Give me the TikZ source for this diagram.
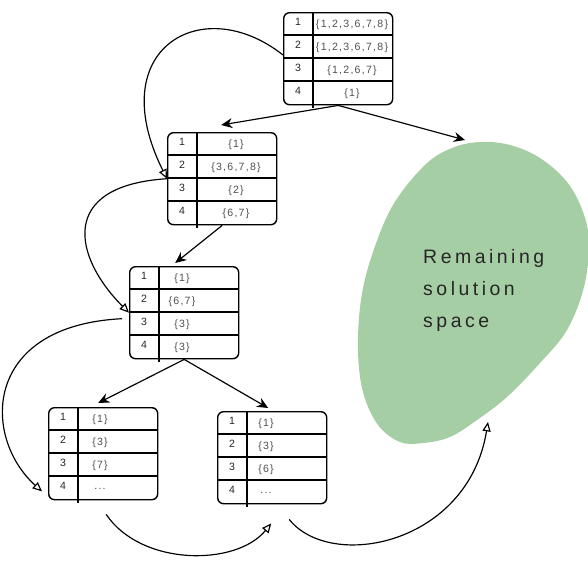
\documentclass[tikz,border=0pt]{standalone}
\usepackage{fontspec}
\setmainfont{Liberation Sans}
\newfontfamily\cellfont[LetterSpace=12]{Liberation Sans}
\newfontfamily\spacefont[LetterSpace=18]{Liberation Sans}
\usetikzlibrary{arrows.meta,calc}
\definecolor{spacegreen}{RGB}{166,206,164}
\definecolor{cellgray}{RGB}{80,80,80}

% name, left, top, value x, four row values
\newcommand{\candtable}[8]{%
  \node[tablebox] (#1) at (#2,#3) {};
  \foreach \k in {1,2,3}
    \draw[tableline] ($(#1.north west)+(0,\k*23)$) -- ++(109,0);
  \draw[tableline] ($(#1.north west)+(30,0)$) -- ++(0,96);
  \foreach \k in {1,...,4}
    \node[rownum] (#1-n\k) at ($(#1.north west)+(15,\k*23-13.5)$) {\k};
  \node[rowval] (#1-v1) at ($(#1.north west)+(#4,12.5)$) {#5};
  \node[rowval] (#1-v2) at ($(#1.north west)+(#4,35.5)$) {#6};
  \node[rowval] (#1-v3) at ($(#1.north west)+(#4,58.5)$) {#7};
  \node[rowval] (#1-v4) at ($(#1.north west)+(#4,81.5)$) {#8};
}

\begin{document}
\begin{tikzpicture}[
    x=0.03cm, y=-0.03cm,
    tablebox/.style={draw, line width=1.2pt, rounded corners=5pt, anchor=north west,
                     inner sep=0pt, minimum width=3.27cm, minimum height=2.76cm},
    tableline/.style={line width=1.2pt},
    rownum/.style={font=\cellfont\fontsize{9}{10}\selectfont, text=black!85, inner sep=0pt},
    rowval/.style={font=\cellfont\fontsize{9}{10}\selectfont, text=cellgray, inner sep=0pt},
    spacetext/.style={font=\spacefont\fontsize{16.6}{27.2}\selectfont, text=black!85,
                      align=left, anchor=north west, inner sep=0pt},
    treearr/.style={-{Stealth[length=9.5pt,width=8.5pt]}, line width=1pt},
    backarr/.style={-{Triangle[open,length=8pt,width=7pt]}, line width=1pt}
]
\path[use as bounding box, fill=white] (0,0) rectangle (588,561);

\fill[spacegreen] plot[smooth cycle, tension=0.6] coordinates {
  (480,142) (510,145) (540,158) (567,182) (583,212) (589,243) (584,287)
  (567,330) (540,363) (507,397) (477,420) (450,437) (423,443) (400,442)
  (378,425) (363,392) (358,350) (361,300) (372,255) (393,205) (425,165) (452,148)};
\node[spacetext] (space) at (423,249) {Remaining\\solution\\space};
\coordinate (space-top) at (465,140);
\coordinate (space-bottom) at (488,422);

\candtable{t1}{283}{12}{69}{\{1,2,3,6,7,8\}}{\{1,2,3,6,7,8\}}{\{1,2,6,7\}}{\{1\}}
\candtable{t2}{167}{132}{69}{\{1\}}{\{3,6,7,8\}}{\{2\}}{\{6,7\}}
\candtable{t3}{129}{266}{53}{\{1\}}{\{6,7\}}{\{3\}}{\{3\}}
\candtable{t4}{48}{407}{52}{\{1\}}{\{3\}}{\{7\}}{...}
\candtable{t5}{217}{411}{49}{\{1\}}{\{3\}}{\{6\}}{...}

\draw[treearr] (t1.south) -- ($(t2.north)+(-1,-7)$);
\draw[treearr] (t1.south) -- (space-top);
\draw[treearr] (t2.south) -- ($(t3.north)+(-9,-3)$);
\draw[treearr] (t3.south) -- ($(t4.north)+(-5,-4)$);
\draw[treearr] (t3.south) -- ($(t5.north)+(-4,-3)$);

\draw[backarr] ($(t1.north west)+(0,43)$) .. controls +(-81,-64) and +(-65,-130) .. (t2.west);
\draw[backarr] (t2.west) .. controls +(-110,7) and +(-55,-55) .. (t3.west);
\draw[backarr] ($(t3.west)+(-7,6)$) .. controls +(-140,7) and +(-60,-54) .. ($(t4.south west)+(-6,-9)$);
\draw[backarr] ($(t4.south)+(3,14)$) .. controls +(35,52) and +(-35,43) .. ($(t5.south)+(-1,19)$);
\draw[backarr] ($(t5.south)+(17,15)$) .. controls +(41.5,52) and +(-20,123) .. (space-bottom);
\end{tikzpicture}
\end{document}
